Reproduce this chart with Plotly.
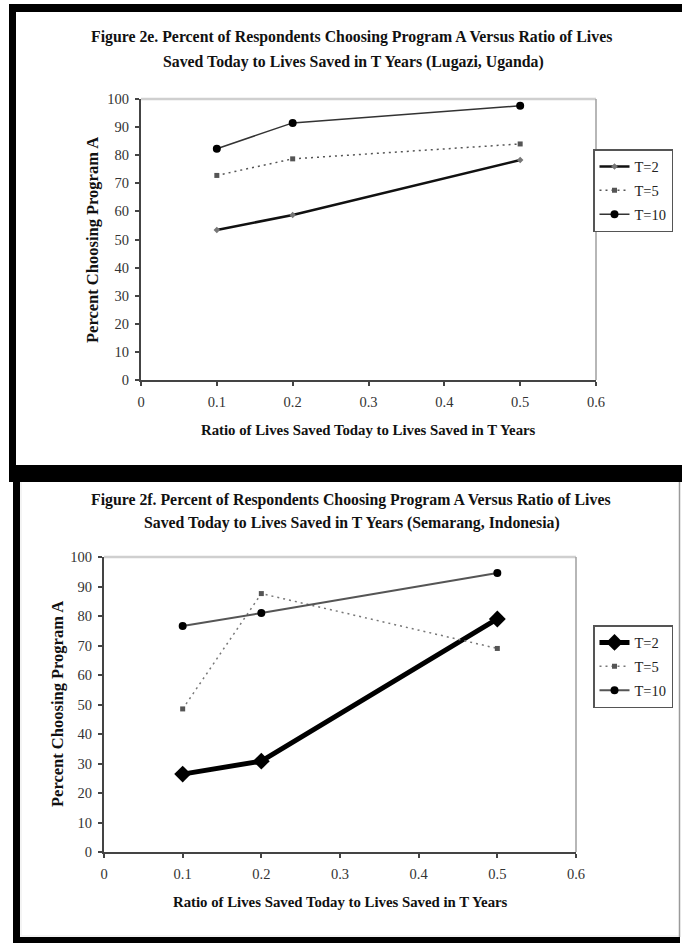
import plotly.graph_objects as go

# ---------------- data ----------------
ratios = [0.1, 0.2, 0.5]
series_names = ["T=2", "T=5", "T=10"]

uganda_t2 = [53.4, 58.7, 78.3]
uganda_t5 = [72.8, 78.7, 84.0]
uganda_t10 = [82.3, 91.5, 97.6]

indonesia_t2 = [26.4, 30.8, 79.0]
indonesia_t5 = [48.5, 87.6, 69.0]
indonesia_t10 = [76.6, 81.0, 94.6]

x_ticks = [0, 0.1, 0.2, 0.3, 0.4, 0.5, 0.6]
y_ticks = [0, 10, 20, 30, 40, 50, 60, 70, 80, 90, 100]

title_top = ["Figure 2e. Percent of Respondents Choosing Program A Versus Ratio of Lives",
             "Saved Today to Lives Saved in T Years (Lugazi, Uganda)"]
title_bot = ["Figure 2f. Percent of Respondents Choosing Program A Versus Ratio of Lives",
             "Saved Today to Lives Saved in T Years (Semarang, Indonesia)"]
x_title = "Ratio of Lives Saved Today to Lives Saved in T Years"
y_title = "Percent Choosing Program A"

# ---------------- layout helpers ----------------
W, H = 682, 943
def px(x):
    return x / W
def py(y):
    return 1 - y / H

SERIF = "Liberation Serif, Times New Roman, serif"
TICKC = "#333333"
TICKSIZE = 14.5

fig = go.Figure()

# top chart traces
styles_top = [
    dict(line=dict(color="#111111", width=2.5), marker=dict(symbol="diamond", size=5, color="#777777")),
    dict(line=dict(color="#555555", width=1.5, dash="2px,4px"), marker=dict(symbol="square", size=5, color="#555555")),
    dict(line=dict(color="#333333", width=1.5), marker=dict(symbol="circle", size=8, color="#000000")),
]
for name, vals, st in zip(series_names, [uganda_t2, uganda_t5, uganda_t10], styles_top):
    fig.add_trace(go.Scatter(x=ratios, y=vals, name=name, mode="lines+markers",
                             xaxis="x", yaxis="y", legend="legend", legendgroup="a" + name, **st))

styles_bot = [
    dict(line=dict(color="#000000", width=5), marker=dict(symbol="diamond", size=13, color="#000000")),
    dict(line=dict(color="#777777", width=1.5, dash="2px,4px"), marker=dict(symbol="square", size=5, color="#555555")),
    dict(line=dict(color="#555555", width=2), marker=dict(symbol="circle", size=8, color="#000000")),
]
for name, vals, st in zip(series_names, [indonesia_t2, indonesia_t5, indonesia_t10], styles_bot):
    fig.add_trace(go.Scatter(x=ratios, y=vals, name=name, mode="lines+markers",
                             xaxis="x2", yaxis="y2", legend="legend2", legendgroup="b" + name, **st))

top_dom_x = [px(141), px(596)]
top_dom_y = [py(380), py(99)]
bot_dom_x = [px(104), px(576)]
bot_dom_y = [py(852), py(557)]

def xaxis_cfg(dom, anchor):
    return dict(domain=dom, anchor=anchor, range=[0, 0.6], tickvals=x_ticks,
                ticktext=[("%g" % v) for v in x_ticks], showgrid=False, zeroline=False,
                showline=True, linecolor="#444444", linewidth=2, ticks="outside", ticklen=4,
                tickcolor="#444444", tickwidth=1.5, ticklabelstandoff=4,
                tickfont=dict(family=SERIF, size=TICKSIZE, color=TICKC))

def yaxis_cfg(dom, anchor):
    return dict(domain=dom, anchor=anchor, range=[0, 100], tickvals=y_ticks,
                showgrid=False, zeroline=False,
                showline=True, linecolor="#444444", linewidth=2, ticks="outside", ticklen=4,
                tickcolor="#444444", tickwidth=1.5, ticklabelstandoff=3,
                tickfont=dict(family=SERIF, size=TICKSIZE, color=TICKC))

def overlay_x(over, anchor):
    return dict(overlaying=over, anchor=anchor, range=[0, 0.6], tickvals=x_ticks, showticklabels=False,
                showgrid=False, zeroline=False, showline=False, ticks="inside", ticklen=4,
                tickcolor="#444444", tickwidth=1.5)

def overlay_y(over, anchor):
    return dict(overlaying=over, anchor=anchor, range=[0, 100], tickvals=y_ticks, showticklabels=False,
                showgrid=False, zeroline=False, showline=False, ticks="inside", ticklen=4,
                tickcolor="#444444", tickwidth=1.5)

shapes = [
    # top chart frame
    dict(type="rect", xref="paper", yref="paper", x0=px(9), x1=px(682), y0=py(482), y1=py(4),
         fillcolor="#000000", line=dict(width=0), layer="below"),
    dict(type="rect", xref="paper", yref="paper", x0=px(16), x1=px(682), y0=py(465), y1=py(12),
         fillcolor="#ffffff", line=dict(width=0), layer="below"),
    # bottom chart frame
    dict(type="rect", xref="paper", yref="paper", x0=px(13), x1=px(680), y0=py(943), y1=py(482),
         fillcolor="#000000", line=dict(width=0), layer="below"),
    dict(type="rect", xref="paper", yref="paper", x0=px(20), x1=px(680), y0=py(937), y1=py(482),
         fillcolor="#f4f4f4", line=dict(width=0), layer="below"),
    dict(type="rect", xref="paper", yref="paper", x0=px(22), x1=px(679), y0=py(935), y1=py(482),
         fillcolor="#ffffff", line=dict(width=0), layer="below"),
    dict(type="line", xref="paper", yref="paper", x0=px(679.5), x1=px(679.5), y0=py(937), y1=py(482),
         line=dict(color="#9a9a9a", width=1.5), layer="below"),
]
# plot-area borders (top and right) for both charts
for xr, yr in [("x", "y"), ("x2", "y2")]:
    shapes.append(dict(type="line", xref=xr + " domain", yref=yr + " domain", x0=0, x1=1, y0=1, y1=1,
                       line=dict(color="#cfcfcf", width=2.5), layer="below"))
    shapes.append(dict(type="line", xref=xr + " domain", yref=yr + " domain", x0=1, x1=1, y0=0, y1=1,
                       line=dict(color="#9f9f9f", width=1.5), layer="below"))

annotations = []
def ann(text, x, y, size, bold=True, angle=0, color="#111111"):
    annotations.append(dict(text=("<b>%s</b>" % text) if bold else text, x=px(x), y=py(y),
                            xref="paper", yref="paper", showarrow=False, textangle=angle,
                            xanchor="center", yanchor="middle",
                            font=dict(family=SERIF, size=size, color=color)))

ann(title_top[0], 351, 37, 15.8)
ann(title_top[1], 353, 62, 15.8)
ann(title_bot[0], 351, 500, 15.8)
ann(title_bot[1], 352, 523, 15.8)
ann(x_title, 368, 430, 14.8)
ann(x_title, 340, 902, 14.8)
ann(y_title, 93, 240, 16.5, angle=-90)
ann(y_title, 57, 704, 16.5, angle=-90)

legend_common = dict(bgcolor="#ffffff", bordercolor="#555555", borderwidth=1.5,
                     font=dict(family=SERIF, size=14.5, color="#222222"),
                     xanchor="left", yanchor="top", traceorder="grouped", tracegroupgap=2,
                     itemwidth=30)

fig.update_layout(
    width=W, height=H,
    margin=dict(l=0, r=0, t=0, b=0, pad=0, autoexpand=False),
    paper_bgcolor="#ffffff", plot_bgcolor="#ffffff",
    showlegend=True,
    xaxis=xaxis_cfg(top_dom_x, "y"),
    yaxis=yaxis_cfg(top_dom_y, "x"),
    xaxis2=xaxis_cfg(bot_dom_x, "y2"),
    yaxis2=yaxis_cfg(bot_dom_y, "x2"),
    xaxis3=overlay_x("x", "y"),
    yaxis3=overlay_y("y", "x"),
    xaxis4=overlay_x("x2", "y2"),
    yaxis4=overlay_y("y2", "x2"),
    legend=dict(x=px(593), y=py(149), **legend_common),
    legend2=dict(x=px(593), y=py(625), **legend_common),
    shapes=shapes,
    annotations=annotations,
)

fig.write_html("out.html")
